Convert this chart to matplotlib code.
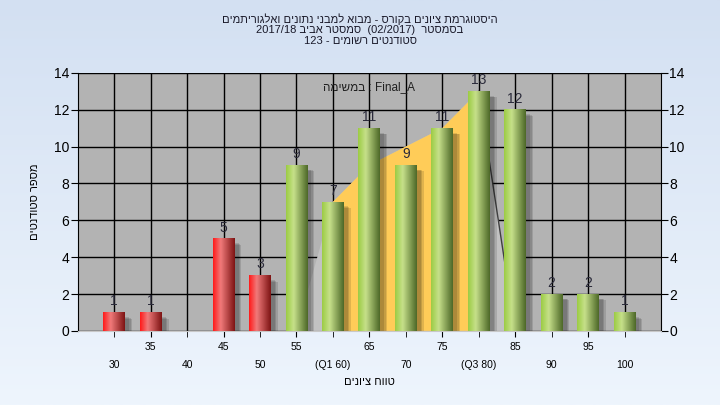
import numpy as np
import matplotlib
matplotlib.use('Agg')
import matplotlib.pyplot as plt
from matplotlib.colors import LinearSegmentedColormap
from matplotlib.patches import Rectangle, Polygon

plt.rcParams['font.family'] = ['Liberation Sans', 'DejaVu Sans']


def heb(s):
    # matplotlib has no bidi support, so Hebrew is given in visual order
    return s[::-1]


# data
grades = [30, 35, 40, 45, 50, 55, 60, 65, 70, 75, 80, 85, 90, 95, 100]
counts = [1, 1, 0, 5, 3, 9, 7, 11, 9, 11, 13, 12, 2, 2, 1]
grade_labels = ['30', '35', '40', '45', '50', '55', '(Q1 60)', '65', '70', '75',
                '(Q3 80)', '85', '90', '95', '100']
pass_grade = 55
# quartile area series ("Final_A")
area_grades = [55, 60, 65, 70, 75, 80, 85]
area_values = [0, 7, 9, 10, 11, 13, 0]
q1_grade, q3_grade = 60, 80

title_lines = [
    heb('היסטוגרמת ציונים בקורס - מבוא למבני נתונים ואלגוריתמים'),
    '2017/18 ' + heb('סמסטר אביב') + '  (02/2017)  ' + heb('בסמסטר'),
    '123 - ' + heb('סטודנטים רשומים'),
]
ylabel = heb('מספר סטודנטים')
xlabel = heb('טווח ציונים')
series_note = heb('במשימה') + ' : Final_A'

fig = plt.figure(figsize=(7.2, 4.05), dpi=100)

# background gradient of the whole figure
bg = fig.add_axes([0, 0, 1, 1], zorder=-10)
bg_cmap = LinearSegmentedColormap.from_list('bg', ['#d3e0f2', '#eef5fd'])
bg.imshow(np.linspace(0, 1, 256).reshape(-1, 1), aspect='auto', cmap=bg_cmap,
          extent=[0, 1, 0, 1])
bg.set_axis_off()

ax = fig.add_axes([0.108, 0.183, 0.810, 0.637])
ax.set_facecolor('#b3b3b3')

x = np.arange(len(grades))
idx = {g: i for i, g in enumerate(grades)}
width = 0.6

# area series: light grey outside the quartiles, orange between them
ax_x = [idx[g] for g in area_grades]
outer = [(ax_x[0], 0)] + list(zip(ax_x, area_values)) + [(ax_x[-1], 0)]
ax.add_patch(Polygon(outer, closed=True, facecolor='#c2c2c2', edgecolor='none', zorder=2))
inner_x = [xx for xx, g in zip(ax_x, area_grades) if q1_grade <= g <= q3_grade]
inner_y = [v for v, g in zip(area_values, area_grades) if q1_grade <= g <= q3_grade]
inner = [(inner_x[0], 0)] + list(zip(inner_x, inner_y)) + [(inner_x[-1], 0)]
ax.add_patch(Polygon(inner, closed=True, facecolor='#ffcc58', edgecolor='none', zorder=2))
ax.plot(ax_x[-2:], area_values[-2:], color='#404040', lw=1, zorder=2.5)

red_cmap = LinearSegmentedColormap.from_list(
    'red', [(0, '#ff1a1a'), (0.35, '#f07a7a'), (1, '#7e1414')])
green_cmap = LinearSegmentedColormap.from_list(
    'green', [(0, '#9ccc44'), (0.35, '#c6e08a'), (1, '#4d6828')])
grad = np.linspace(0, 1, 64).reshape(1, -1)

for xi, g, c in zip(x, grades, counts):
    if c == 0:
        continue
    x0 = xi - width / 2
    # soft shadow
    for k in range(3):
        d = 0.05 + 0.04 * k
        ax.add_patch(Rectangle((x0 + d + 0.06, -0.25), width, c - 0.04 * k,
                               facecolor='black', alpha=0.12, edgecolor='none', zorder=3))
    cmap = red_cmap if g < pass_grade else green_cmap
    ax.imshow(grad, cmap=cmap, aspect='auto', extent=[x0, x0 + width, 0, c],
              zorder=4, interpolation='bilinear')
    ax.annotate(str(c), (xi, c), xytext=(0, 3), textcoords='offset points',
                ha='center', va='bottom', fontsize=10, color='#2a2a3a', zorder=5)

ax.set_xlim(-1, len(grades))
ax.set_ylim(0, 14)
ax.set_yticks(range(0, 15, 2))
ax.grid(True, color='black', lw=1, zorder=1)
ax.set_axisbelow(True)

# alternate two rows of category labels
ax.set_xticks(x[1::2])
ax.set_xticklabels([grade_labels[i] for i in x[1::2]])
ax.set_xticks(x[0::2], minor=True)
ax.set_xticklabels([grade_labels[i] for i in x[0::2]], minor=True)
ax.xaxis.grid(True, which='minor', color='black', lw=1)
ax.tick_params(axis='x', which='major', length=4, pad=4, labelsize=7.5, color='black')
ax.tick_params(axis='x', which='minor', length=4, pad=17, labelsize=7.5, color='black')
ax.tick_params(axis='y', length=5, labelsize=10, left=True, right=True,
               labelleft=True, labelright=True, pad=1)
for s in ax.spines.values():
    s.set_color('black')
ax.spines['top'].set_visible(False)
ax.spines['bottom'].set_color('#c8c8c8')

ax.set_ylabel(ylabel, fontsize=8, labelpad=10)
ax.set_xlabel(xlabel, fontsize=8, labelpad=5)

ax.text(0.5, 0.945, series_note, transform=ax.transAxes, ha='center', va='center',
        fontsize=8.5, color='#202020', zorder=6)

fig.text(0.5, 0.968, '\n'.join(title_lines), ha='center', va='top', fontsize=8,
         color='#1a1a2a', linespacing=1.1)

fig.savefig('out.png', dpi=100)
